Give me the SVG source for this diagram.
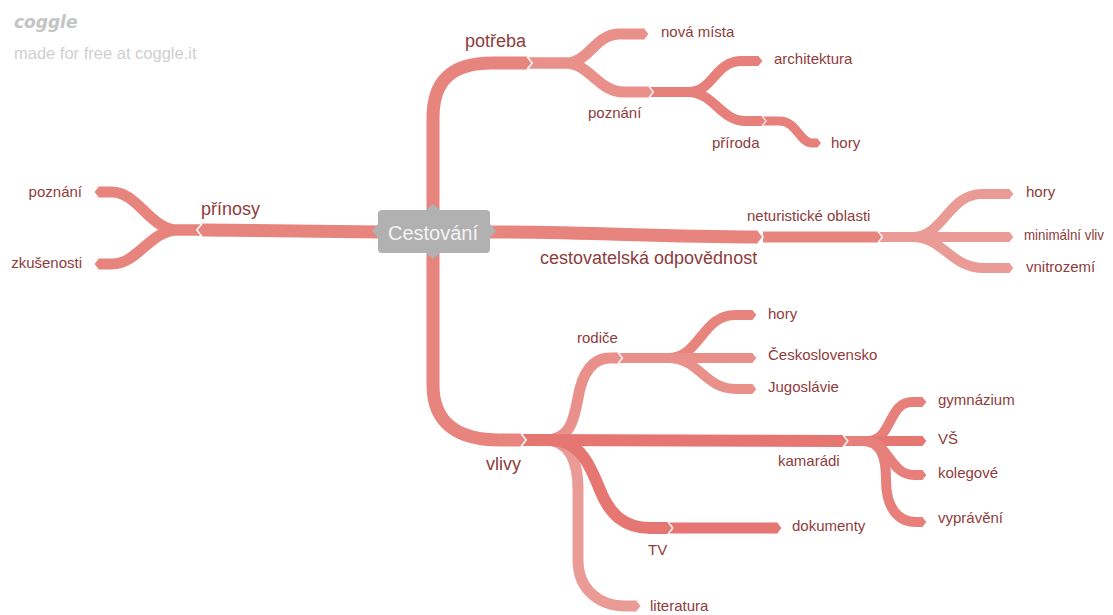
<svg xmlns="http://www.w3.org/2000/svg" width="1113" height="615" viewBox="0 0 1113 615">
<style>
.b{fill:none;stroke-linecap:butt;stroke-linejoin:round}
.c1{stroke:#e8847e}.c2{stroke:#ea908b}.c3{stroke:#e57672}.c4{stroke:#eb9b96}.c5{stroke:#e77f7a}
.m1{marker-end:url(#t1)}.m2{marker-end:url(#t2)}.m3{marker-end:url(#t3)}.m4{marker-end:url(#t4)}.m5{marker-end:url(#t5)}
.t{font-family:"Liberation Sans",Arial,sans-serif;fill:#8e3c3c;font-size:15px}
.L{font-size:18px}
</style>
<defs>
<marker id="t1" viewBox="0 -0.6 0.5 1.2" refX="0" refY="0" markerWidth="0.5" markerHeight="1.2" orient="auto" markerUnits="strokeWidth" overflow="visible"><path d="M0,-0.5 L0.4,0 L0,0.5" fill="#e8847e" stroke="#fff" stroke-width="0.12"/></marker>
<marker id="t2" viewBox="0 -0.6 0.5 1.2" refX="0" refY="0" markerWidth="0.5" markerHeight="1.2" orient="auto" markerUnits="strokeWidth" overflow="visible"><path d="M0,-0.5 L0.4,0 L0,0.5" fill="#ea908b" stroke="#fff" stroke-width="0.12"/></marker>
<marker id="t3" viewBox="0 -0.6 0.5 1.2" refX="0" refY="0" markerWidth="0.5" markerHeight="1.2" orient="auto" markerUnits="strokeWidth" overflow="visible"><path d="M0,-0.5 L0.4,0 L0,0.5" fill="#e57672" stroke="#fff" stroke-width="0.12"/></marker>
<marker id="t4" viewBox="0 -0.6 0.5 1.2" refX="0" refY="0" markerWidth="0.5" markerHeight="1.2" orient="auto" markerUnits="strokeWidth" overflow="visible"><path d="M0,-0.5 L0.4,0 L0,0.5" fill="#eb9b96" stroke="#fff" stroke-width="0.12"/></marker>
<marker id="t5" viewBox="0 -0.6 0.5 1.2" refX="0" refY="0" markerWidth="0.5" markerHeight="1.2" orient="auto" markerUnits="strokeWidth" overflow="visible"><path d="M0,-0.5 L0.4,0 L0,0.5" fill="#e77f7a" stroke="#fff" stroke-width="0.12"/></marker>
</defs>
<rect width="1113" height="615" fill="#fff"/>
<g id="watermark">
<text x="14" y="28" font-family="'DejaVu Sans',sans-serif" font-style="italic" font-weight="bold" font-size="17" fill="#c4c4c4">coggle</text>
<text x="14" y="59" font-family="'Liberation Sans',Arial,sans-serif" font-size="16.5" fill="#cfcfcf">made for free at coggle.it</text>
</g>
<g id="connectors">
<path class="b c5 m5" stroke-width="9" d="M762,121 L780,121 C796,121 800,143 812,143 L818,143"/>
<path class="b c5 m5" stroke-width="10" d="M649,92 L688,92 C714,92 714,61 742,61 L759,61"/>
<path class="b c5 m5" stroke-width="10" d="M649,92 L688,92 C714,92 720,121 746,121 L762,121"/>
<path class="b c2 m2" stroke-width="11" d="M527,63 L565,63 C590,63 594,34 620,34 L645,34"/>
<path class="b c2 m2" stroke-width="11" d="M527,63 L565,63 C590,63 598,92 624,92 L649,92"/>
<path class="b c1 m1" stroke-width="13" d="M433,212 L433,118 C433,80 452,63 492,63 L527,63"/>
<path class="b c1 m1" stroke-width="11" d="M202,230 L178,230 C150,230 138,192 112,192 L98,192"/>
<path class="b c1 m1" stroke-width="11" d="M202,230 L178,230 C150,230 138,264 112,264 L98,264"/>
<path class="b c1 m1" stroke-width="13" d="M380,232 L202,230"/>
<path class="b c4 m4" stroke-width="10" d="M878,237 L912,237 C944,237 948,194 982,194 L1010,194"/>
<path class="b c4 m4" stroke-width="10" d="M878,237 L1010,237"/>
<path class="b c4 m4" stroke-width="10" d="M878,237 L912,237 C944,237 950,268 984,268 L1010,268"/>
<path class="b c1 m1" stroke-width="11" d="M763,237 L878,237"/>
<path class="b c1 m1" stroke-width="13" d="M487,232 C600,232 650,237 758,237"/>
<path class="b c1 m1" stroke-width="10" d="M618,358 L668,358 C700,358 702,315 735,315 L753,315"/>
<path class="b c2 m2" stroke-width="10" d="M618,358 L753,358"/>
<path class="b c2 m2" stroke-width="10" d="M618,358 L668,358 C700,358 704,389 736,389 L753,389"/>
<path class="b c5 m5" stroke-width="10" d="M843,441 L868,441 C892,441 888,402 912,402 L923,402"/>
<path class="b c3 m3" stroke-width="10" d="M843,441 L923,441"/>
<path class="b c5 m5" stroke-width="10" d="M843,441 L866,441 C888,441 890,475 914,475 L923,475"/>
<path class="b c5 m5" stroke-width="10" d="M843,441 L862,441 C882,441 886,458 886,480 C886,508 898,522 916,522 L923,522"/>
<path class="b c3 m3" stroke-width="11" d="M668,528 L778,528"/>
<path class="b c4 m4" stroke-width="11" d="M521,440 L545,440 C568,440 578,458 578,490 L578,560 C578,590 600,606 625,606 L637,606"/>
<path class="b c3 m3" stroke-width="12" d="M521,440 L550,440 C580,440 590,465 600,490 C610,515 625,528 650,528 L668,528"/>
<path class="b c2 m2" stroke-width="11" d="M521,440 L545,440 C570,440 574,420 578,398 C582,374 592,358 610,358 L618,358"/>
<path class="b c3 m3" stroke-width="12" d="M521,440 L843,441"/>
<path class="b c1 m1" stroke-width="13" d="M433,251 L433,385 C433,425 460,440 500,440 L521,440"/>
</g>
<g id="n-root">
<rect x="378" y="210" width="112" height="43" rx="4" fill="#b1b1b1"/>
<path d="M426,210 L433,204 L440,210 Z M426,253 L433,259 L440,253 Z M378,224 L372,231 L378,238 Z M490,224 L496,231 L490,238 Z" fill="#b1b1b1"/>
<text x="433" y="240" text-anchor="middle" font-family="'Liberation Sans',Arial,sans-serif" font-size="20" fill="#f4f4f4">Cestování</text>
</g>
<g id="n-potreba"><text class="t L" x="465" y="47">potřeba</text></g>
<g id="n-nova-mista"><text class="t" x="661" y="37">nová místa</text></g>
<g id="n-poznani1"><text class="t" x="588" y="118">poznání</text></g>
<g id="n-architektura"><text class="t" x="774" y="64">architektura</text></g>
<g id="n-priroda"><text class="t" x="712" y="148">příroda</text></g>
<g id="n-hory1"><text class="t" x="831" y="148">hory</text></g>
<g id="n-prinosy"><text class="t L" x="201" y="215">přínosy</text></g>
<g id="n-poznani2"><text class="t" x="82" y="197" text-anchor="end">poznání</text></g>
<g id="n-zkusenosti"><text class="t" x="82" y="268" text-anchor="end">zkušenosti</text></g>
<g id="n-cestovatelska"><text class="t L" x="540" y="264">cestovatelská odpovědnost</text></g>
<g id="n-neturisticke"><text class="t" x="747" y="221">neturistické oblasti</text></g>
<g id="n-hory2"><text class="t" x="1026" y="197">hory</text></g>
<g id="n-minimalni"><text class="t" x="1024" y="240" font-size="14" textLength="80" lengthAdjust="spacingAndGlyphs">minimální vliv</text></g>
<g id="n-vnitrozemi"><text class="t" x="1026" y="272">vnitrozemí</text></g>
<g id="n-vlivy"><text class="t L" x="486" y="470">vlivy</text></g>
<g id="n-rodice"><text class="t" x="577" y="343">rodiče</text></g>
<g id="n-hory3"><text class="t" x="768" y="319">hory</text></g>
<g id="n-ceskoslovensko"><text class="t" x="768" y="360">Československo</text></g>
<g id="n-jugoslavie"><text class="t" x="768" y="392">Jugoslávie</text></g>
<g id="n-kamaradi"><text class="t" x="778" y="466">kamarádi</text></g>
<g id="n-gymnazium"><text class="t" x="938" y="405">gymnázium</text></g>
<g id="n-vs"><text class="t" x="938" y="444">VŠ</text></g>
<g id="n-kolegove"><text class="t" x="938" y="478">kolegové</text></g>
<g id="n-vypraveni"><text class="t" x="938" y="523">vyprávění</text></g>
<g id="n-tv"><text class="t" x="648" y="555">TV</text></g>
<g id="n-dokumenty"><text class="t" x="792" y="531">dokumenty</text></g>
<g id="n-literatura"><text class="t" x="650" y="611">literatura</text></g>
</svg>
